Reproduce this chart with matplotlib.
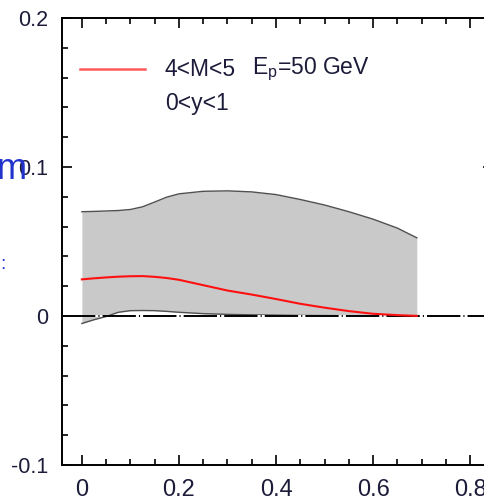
import matplotlib
matplotlib.use("Agg")
import matplotlib.pyplot as plt
from matplotlib.ticker import MultipleLocator, FixedLocator

plt.rcParams['font.family'] = ['Liberation Sans', 'DejaVu Sans']
plt.rcParams['lines.scale_dashes'] = False

# x grid of the curves
x = [0.0, 0.025, 0.05, 0.075, 0.1, 0.125, 0.15, 0.175, 0.2, 0.25,
     0.3, 0.35, 0.4, 0.45, 0.5, 0.55, 0.6, 0.65, 0.69]
# upper edge of the uncertainty band
band_hi = [0.0700, 0.0702, 0.0705, 0.0708, 0.0715, 0.0733, 0.0765, 0.0798,
           0.0820, 0.0837, 0.0840, 0.0833, 0.0815, 0.0782, 0.0745, 0.0700,
           0.0650, 0.0590, 0.0525]
# lower edge of the uncertainty band
band_lo = [-0.0050, -0.0025, -0.0003, 0.0025, 0.0036, 0.0037, 0.0036, 0.0031,
           0.0025, 0.0016, 0.0011, 0.0008, 0.0006, 0.0004, 0.0003, 0.0002,
           0.0001, 0.0, 0.0]
# central curve
central = [0.0246, 0.0253, 0.0259, 0.0264, 0.0267, 0.0268, 0.0263, 0.0255,
           0.0243, 0.0207, 0.0171, 0.0144, 0.0114, 0.0082, 0.0056, 0.0033,
           0.0015, 0.0006, 0.0001]

xticks = [0.0, 0.2, 0.4, 0.6, 0.8]
xticklabels = ["0", "0.2", "0.4", "0.6", "0.8"]
yticks = [-0.1, 0.0, 0.1, 0.2]
yticklabels = ["-0.1", "0", "0.1", "0.2"]

label_color = "#1c1c3a"

fig = plt.figure(figsize=(4.85, 5.03), dpi=100)
ax = fig.add_axes([0.1278, 0.0755, 0.8887, 0.8887])
ax.set_xlim(-0.041, 0.847)
ax.set_ylim(-0.1, 0.2)

# uncertainty band
ax.fill_between(x, band_lo, band_hi, color="#c9c9c9", lw=0, zorder=1)
ax.plot(x, band_hi, color="#505050", lw=1.0, zorder=2)
ax.plot(x, band_lo, color="#505050", lw=1.0, zorder=2)

# zero line (dash-dot)
ax.axhline(0.0, color="white", lw=1.4, zorder=3)
ax.axhline(0.0, color="black", lw=1.4, zorder=3, dashes=(24, 2.2, 0.8, 2.2))

# central curve
ax.plot(x, central, color="#ff1010", lw=1.5, zorder=4)

# legend
ax.plot([-0.0035, 0.13], [0.1655, 0.1655], color="#ff5a5a", lw=1.8,
        clip_on=False)
ax.text(0.171, 0.1655, "4<M<5", fontsize=16.5, color=label_color,
        va="center", ha="left")
ax.text(0.35, 0.1655, r"E$_\mathregular{p}$=50 GeV", fontsize=16.5,
        color=label_color, va="center", ha="left")
ax.text(0.171, 0.1425, "0<y<1", fontsize=16.5, color=label_color,
        va="center", ha="left")

# ticks
ax.xaxis.set_major_locator(FixedLocator(xticks))
ax.set_xticklabels(xticklabels)
ax.xaxis.set_minor_locator(MultipleLocator(0.05))
ax.yaxis.set_major_locator(FixedLocator(yticks))
ax.set_yticklabels(yticklabels)
ax.yaxis.set_minor_locator(MultipleLocator(0.02))
ax.tick_params(which="both", direction="in", top=True, right=True,
               width=1.2, color="black")
ax.tick_params(which="major", length=7)
ax.tick_params(which="minor", length=4.5)
ax.tick_params(axis="x", which="major", labelsize=17, pad=10,
               labelcolor=label_color)
ax.tick_params(axis="y", which="major", labelsize=15.5, pad=10,
               labelcolor=label_color)
for s in ax.spines.values():
    s.set_linewidth(1.4)

# clipped axis title fragments
fig.text(-0.006, 0.664, "m", fontsize=26, color="#2233cc", ha="left",
         va="center")
fig.text(0.0, 0.474, ":", fontsize=14, color="#2233cc", ha="left",
         va="center")

fig.savefig("out.png", dpi=100)
